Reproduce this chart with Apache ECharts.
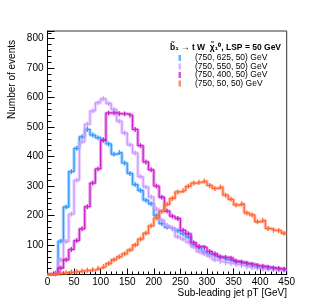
<!DOCTYPE html>
<html>
<head>
<meta charset="utf-8">
<script src="https://cdn.jsdelivr.net/npm/echarts@6/dist/echarts.min.js"></script>
<style>html,body{margin:0;padding:0;background:#fff;}#c{width:319px;height:306px;}</style>
</head>
<body>
<div id="c"></div>
<script>
// bin lower edges (GeV), bin width 10
const binLow = [0,10,20,30,40,50,60,70,80,90,100,110,120,130,140,150,160,170,180,190,200,210,220,230,240,250,260,270,280,290,300,310,320,330,340,350,360,370,380,390,400,410,420,430,440];
const binUpper = 450;
const xTicks = [0,50,100,150,200,250,300,350,400,450];
const yTicks = [100,200,300,400,500,600,700,800];

const names = ["(750, 625, 50) GeV", "(750, 550, 50) GeV", "(750, 400, 50) GeV", "(750, 50, 50) GeV"];
const colors = ["#3399ff", "#cc99ff", "#cc22cc", "#ff6633"];

const h625 = [0,0,113,229,349,428,467,492,473,464,457,443,408,414,378,343,305,285,252,240,200,173,160,155,148,138,127,100,90,75,68,62,56,50,48,42,38,33,28,25,22,21,20,18,17];
const h550 = [0,5,50,112,205,320,450,510,555,583,596,580,560,520,480,440,412,332,297,263,222,184,166,158,128,120,110,93,78,70,62,50,44,40,37,34,30,26,23,21,19,18,16,15,14];
const h400 = [0,4,22,50,85,115,155,230,310,358,455,548,548,545,545,540,492,437,382,355,300,262,215,198,190,150,138,108,95,92,78,70,60,58,55,45,42,38,35,30,28,25,22,20,18];
const h50  = [0,2,4,6,8,10,12,14,16,21,27,37,50,60,70,83,100,120,140,165,192,214,238,258,280,285,299,310,313,317,302,292,297,269,255,236,240,209,202,179,184,156,150,149,140];

const hists = [h625, h550, h400, h50];

const chart = echarts.init(document.getElementById('c'), null, {renderer: 'canvas'});
const FONT = 'Liberation Sans, Arial, Helvetica, sans-serif';

const series = [];
hists.forEach((h, k) => {
  const stepData = binLow.map((x, i) => [x, h[i]]);
  stepData.push([binUpper, h[h.length - 1]]);
  series.push({
    type: 'line', step: 'end', data: stepData, showSymbol: false, silent: true,
    lineStyle: {color: colors[k], width: 3.5, opacity: 0.4}, z: 2 + k * 3, animation: false
  });
  series.push({
    type: 'line', step: 'end', data: stepData, showSymbol: false, silent: true,
    lineStyle: {color: colors[k], width: 1.3}, z: 3 + k * 3, animation: false
  });
  series.push({
    type: 'custom', silent: true, animation: false, z: 4 + k * 3,
    data: binLow.map((x, i) => [x + 5, h[i]]).filter(d => d[1] > 0),
    renderItem: function (params, api) {
      const p = api.coord([api.value(0), api.value(1)]);
      return {
        type: 'line',
        shape: {x1: p[0], y1: p[1] - 2.5, x2: p[0], y2: p[1] + 2.5},
        style: {stroke: colors[k], lineWidth: 1.2}
      };
    }
  });
});

const legendRows = [58, 66.5, 75, 83.5];
const graphic = [
  {type: 'text', x: 12, y: 40, rotation: Math.PI / 2,
   style: {text: 'Number of events', font: '10px ' + FONT, fill: '#000', align: 'right', verticalAlign: 'middle'}},
  {type: 'text', x: 287, y: 293,
   style: {text: 'Sub-leading jet pT [GeV]', font: '10px ' + FONT, fill: '#000', align: 'right', verticalAlign: 'middle'}},
  {type: 'text', x: 170, y: 48,
   style: {text: 'b\u0303\u2081 \u2192 t W  \u03c7\u0303\u2081\u2070, LSP = 50 GeV', font: 'bold 8.5px ' + FONT, fill: '#000', align: 'left', verticalAlign: 'middle'}}
];
names.forEach((n, k) => {
  graphic.push({type: 'rect', shape: {x: 178.5, y: legendRows[k] - 3, width: 2.5, height: 6},
    style: {fill: colors[k], opacity: 0.75}});
  graphic.push({type: 'text', x: 195, y: legendRows[k],
    style: {text: n, font: '8.5px ' + FONT, fill: '#000', align: 'left', verticalAlign: 'middle'}});
});

chart.setOption({
  animation: false,
  backgroundColor: '#fff',
  grid: {left: 47.5, right: 32.3, top: 31, bottom: 31.5, show: true, borderColor: '#333', borderWidth: 1, backgroundColor: 'transparent'},
  xAxis: {
    type: 'value', min: 0, max: 450, interval: 50,
    axisLine: {show: true, onZero: false, lineStyle: {color: '#000', width: 1}},
    axisTick: {show: true, inside: true, length: 6, lineStyle: {color: '#000'}},
    minorTick: {show: true, splitNumber: 5, length: 3, lineStyle: {color: '#000'}},
    axisLabel: {fontSize: 10, fontFamily: FONT, color: '#000', margin: 3,
      formatter: v => xTicks.indexOf(v) >= 0 ? String(v) : ''},
    splitLine: {show: false}
  },
  yAxis: {
    type: 'value', min: 0, max: 826, interval: 100,
    axisLine: {show: true, onZero: false, lineStyle: {color: '#000', width: 1}},
    axisTick: {show: true, inside: true, length: 7, lineStyle: {color: '#000'}},
    minorTick: {show: true, splitNumber: 5, length: 4, lineStyle: {color: '#000'}},
    axisLabel: {fontSize: 10, fontFamily: FONT, color: '#000', margin: 4,
      formatter: v => yTicks.indexOf(v) >= 0 ? String(v) : ''},
    splitLine: {show: false}
  },
  series: series,
  graphic: graphic
});
</script>
</body>
</html>
